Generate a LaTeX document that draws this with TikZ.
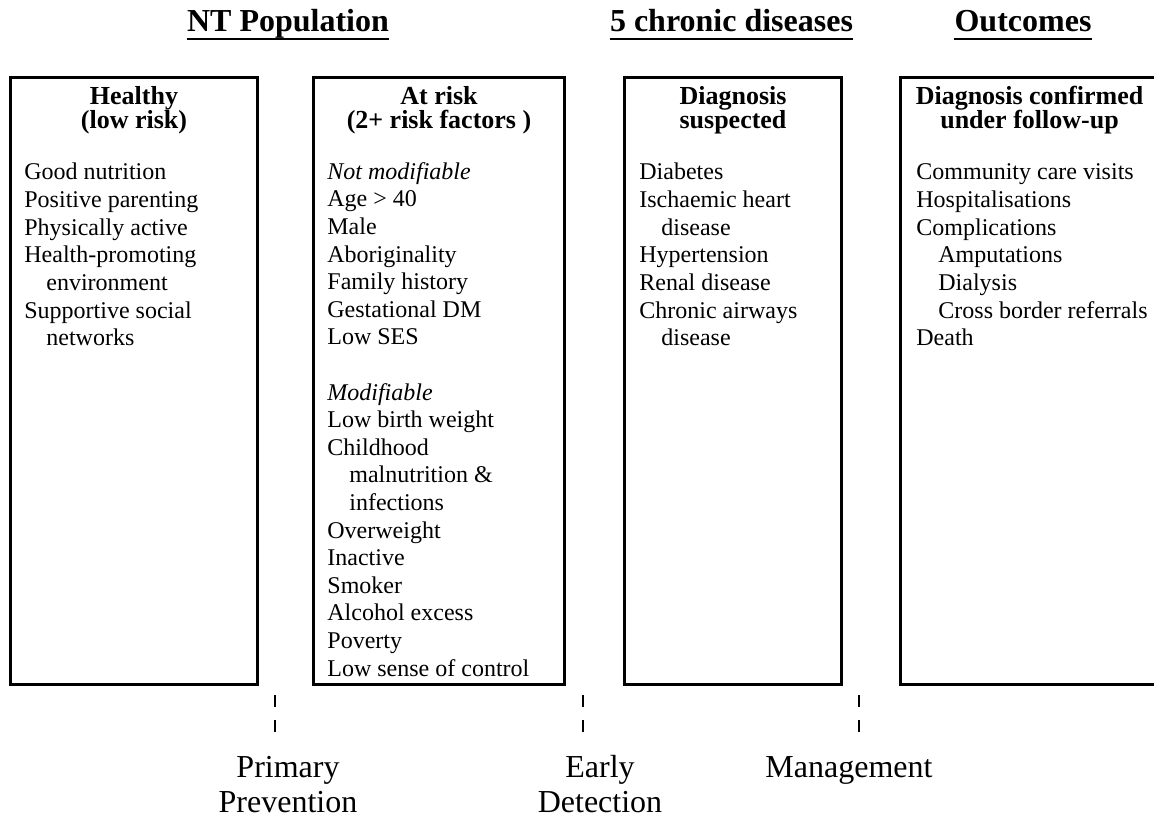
\documentclass[tikz,border=0pt]{standalone}
\usepackage{fontspec}
\setmainfont{Liberation Serif}
\usetikzlibrary{positioning}

\begin{document}
\begin{tikzpicture} [
    x=0.5pt, y=-0.5pt,
    box/.style      = {draw,
                       line width=1.5pt,
                       anchor=north west,
                       minimum height=303.5pt,
                       inner sep=0pt},
    boxtitle/.style = {anchor=base,
                       align=center,
                       inner sep=0pt,
                       font=\fontsize{13}{12.2}\selectfont\bfseries},
    boxlist/.style  = {anchor=base west,
                       align=left,
                       inner sep=0pt,
                       font=\fontsize{12}{13.8}\selectfont},
    colhead/.style  = {anchor=base,
                       inner sep=0pt,
                       text depth=3pt,
                       font=\fontsize{16}{19}\selectfont\bfseries},
    ulline/.style   = {line width=1pt},
    stage/.style    = {anchor=base,
                       align=center,
                       inner sep=0pt,
                       font=\fontsize{16}{17.5}\selectfont},
    divider/.style  = {line width=1pt,
                       dash pattern=on 6pt off 6.5pt}
]
\useasboundingbox (0,0) rectangle (1154,817);

% column headings
\node (h1) [colhead] at (288,32) {NT Population};
\node (h2) [colhead] at (731.5,32) {5 chronic diseases};
\node (h3) [colhead] at (1023,32) {Outcomes};
\draw[ulline] ([yshift=-.5pt]h1.south west) -- ([yshift=-.5pt]h1.south east);
\draw[ulline] ([yshift=-.5pt]h2.south west) -- ([yshift=-.5pt]h2.south east);
\draw[ulline] ([yshift=-.5pt]h3.south west) -- ([yshift=-.5pt]h3.south east);

% boxes
\node (b1) [box, minimum width=123.5pt] at (9,76) {};
\node (b2) [box, minimum width=125.5pt] at (312,76) {};
\node (b3) [box, minimum width=108.5pt] at (623,76) {};
\node (b4) [box, minimum width=130pt] at (899,76) {};

% titles sit on their last line
\node (t1) [boxtitle] at ([yshift=-26.5pt]b1.north) {Healthy\\(low risk)};
\node (t2) [boxtitle] at ([yshift=-26.5pt]b2.north) {At risk\\(2+ risk factors )};
\node (t3) [boxtitle] at ([yshift=-26.5pt]b3.north) {Diagnosis\\suspected};
\node (t4) [boxtitle] at ([xshift=-.5pt,yshift=-26.5pt]b4.north) {Diagnosis confirmed\\under follow-up};

\node (l1) [boxlist] at ([xshift=7.5pt,yshift=-134.8pt]b1.north west) {
Good nutrition\\
Positive parenting\\
Physically active\\
Health-promoting\\
\hspace*{11pt}environment\\
Supportive social\\
\hspace*{11pt}networks
};
\node (l2) [boxlist] at ([xshift=7.5pt,yshift=-300pt]b2.north west) {
\textit{Not modifiable}\\
Age > 40\\
Male\\
Aboriginality\\
Family history\\
Gestational DM\\
Low SES\\[13.8pt]
\textit{Modifiable}\\
Low birth weight\\
Childhood\\
\hspace*{11pt}malnutrition \&\\
\hspace*{11pt}infections\\
Overweight\\
Inactive\\
Smoker\\
Alcohol excess\\
Poverty\\
Low sense of control
};
\node (l3) [boxlist] at ([xshift=8pt,yshift=-134.8pt]b3.north west) {
Diabetes\\
Ischaemic heart\\
\hspace*{11pt}disease\\
Hypertension\\
Renal disease\\
Chronic airways\\
\hspace*{11pt}disease
};
\node (l4) [boxlist] at ([xshift=8.5pt,yshift=-134.8pt]b4.north west) {
Community care visits\\
Hospitalisations\\
Complications\\
\hspace*{11pt}Amputations\\
\hspace*{11pt}Dialysis\\
\hspace*{11pt}Cross border referrals\\
Death
};

% stage dividers
\coordinate (d1a) at (275,695);
\coordinate (d1b) at (275,732);
\coordinate (d2a) at (583,695);
\coordinate (d2b) at (583,732);
\coordinate (d3a) at (859,695);
\coordinate (d3b) at (859,732);
\draw[divider] (d1a) -- (d1b);
\draw[divider] (d2a) -- (d2b);
\draw[divider] (d3a) -- (d3b);

\node (s1) [stage] at (288,812) {Primary\\Prevention};
\node (s2) [stage] at (600,812) {Early\\Detection};
\node (s3) [stage] at (849,777) {Management};
\end{tikzpicture}
\end{document}
